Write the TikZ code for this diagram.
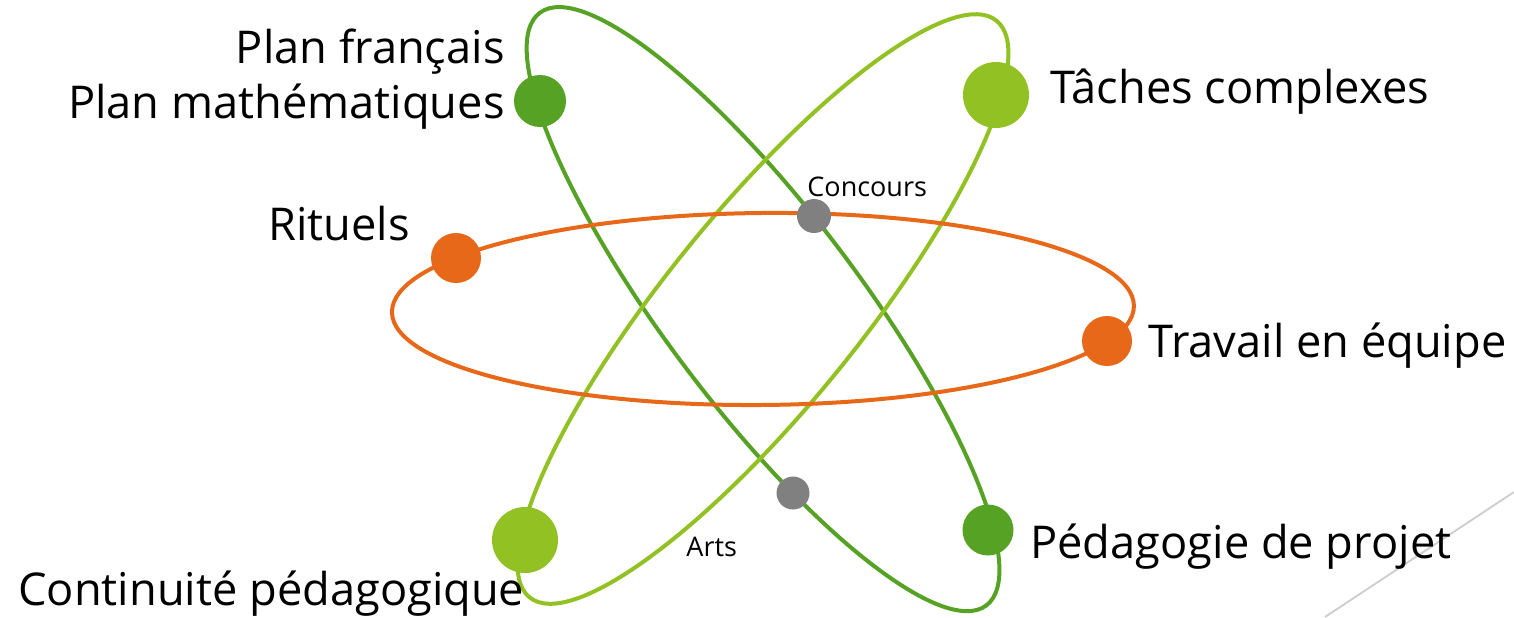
\documentclass[tikz,border=0pt]{standalone}
\usepackage{fontspec}
\setmainfont{Open Sans}
\definecolor{dkgreen}{RGB}{86,162,36}
\definecolor{ltgreen}{RGB}{146,193,35}
\definecolor{orng}{RGB}{232,104,26}
\definecolor{dotgray}{RGB}{128,128,128}
\definecolor{decogray}{RGB}{205,205,205}
\begin{document}
\begin{tikzpicture}[x=0.5pt,y=-0.5pt,
  orbit/.style={line width=2pt},
  bigdot/.style={circle,fill=#1,draw=none,inner sep=0pt},
  lbl/.style={inner sep=0pt,font=\fontsize{22.6}{27.5}\selectfont},
  small/.style={inner sep=0pt,font=\fontsize{13.5}{16}\selectfont}]
\fill[white] (0,0) rectangle (1514,617);
\useasboundingbox (0,0) rectangle (1514,617);
% decorative line
\coordinate (d1) at (1325,617);
\coordinate (d2) at (1514,492);
\draw[decogray,line width=0.9pt] (d1) -- (d2);
% orbits
\coordinate (c) at (763,309);
\draw[orbit,dkgreen,rotate around={-53:(c)}] (c) ellipse [x radius=371, y radius=97];
\draw[orbit,ltgreen,rotate around={51:(c)}] (c) ellipse [x radius=371, y radius=97];
\draw[orbit,orng,rotate around={0.5:(c)}] (c) ellipse [x radius=371, y radius=96];
% dots
\node[bigdot=dkgreen,minimum size=26pt] (pm) at (540,101) {};
\node[bigdot=ltgreen,minimum size=33pt] (tcd) at (996,95) {};
\node[bigdot=ltgreen,minimum size=33pt] (cpd) at (525,540) {};
\node[bigdot=dkgreen,minimum size=25.5pt] (pdd) at (988,530) {};
\node[bigdot=orng,minimum size=25pt] (rid) at (456,258) {};
\node[bigdot=orng,minimum size=25pt] (ted) at (1107,341) {};
\node[bigdot=dotgray,minimum size=17pt] (cod) at (814,216) {};
\node[bigdot=dotgray,minimum size=16.5pt] (ard) at (793,493) {};
% labels
\node[lbl,align=right,anchor=east] (pl) at (505,79) {Plan français\\Plan mathématiques};
\node[lbl,anchor=base west] (tc) at (1050,103) {Tâches complexes};
\node[lbl,anchor=base west] (ri) at (268,240) {Rituels};
\node[lbl,anchor=base west] (te) at (1148,357) {Travail en équipe};
\node[lbl,anchor=base west] (pd) at (1030,558) {Pédagogie de projet};
\node[lbl,anchor=base west] (cp) at (18,605) {Continuité pédagogique};
\node[small,anchor=base west] (co) at (807,196) {Concours};
\node[small,anchor=base west] (ar) at (686,556) {Arts};
\end{tikzpicture}
\end{document}
